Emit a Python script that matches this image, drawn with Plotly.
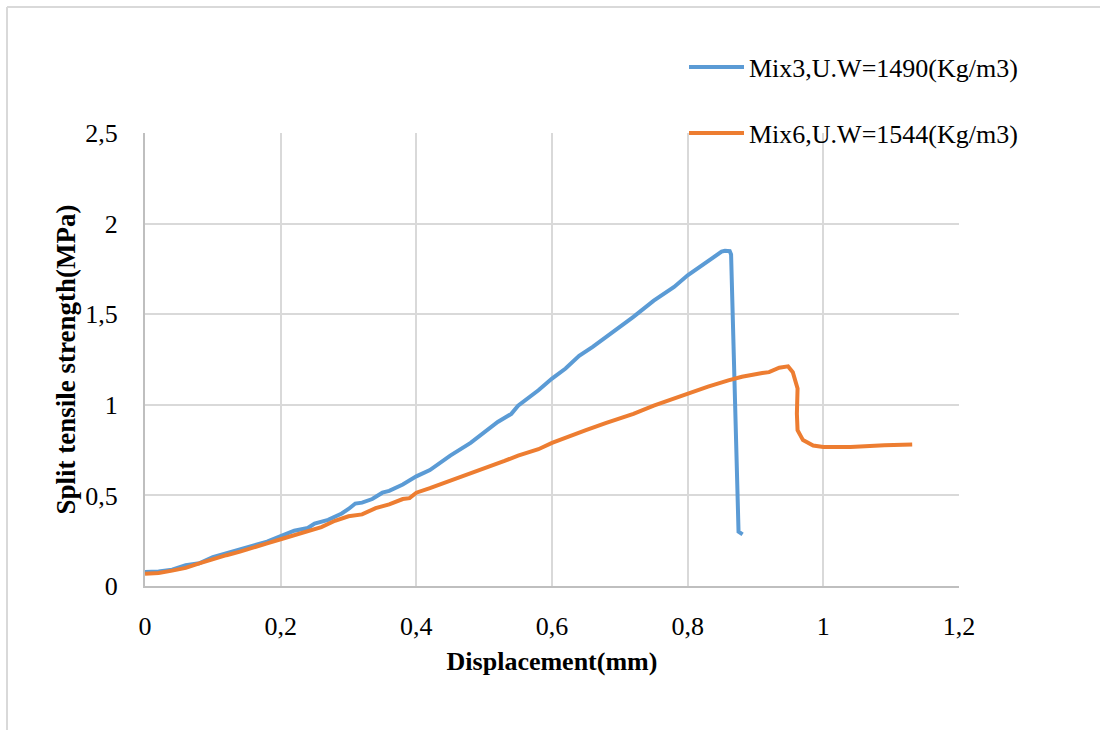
import plotly.graph_objects as go

# Mix3, U.W=1490 (Kg/m3)
mix3_x = [0, 0.02, 0.04, 0.06, 0.07, 0.08, 0.10, 0.12, 0.14, 0.16, 0.18, 0.20, 0.22, 0.24,
          0.25, 0.27, 0.29, 0.30, 0.31, 0.32, 0.335, 0.35, 0.36, 0.38, 0.40, 0.42, 0.45,
          0.48, 0.50, 0.52, 0.54, 0.55, 0.58, 0.60, 0.62, 0.64, 0.66, 0.68, 0.70, 0.72,
          0.75, 0.78, 0.80, 0.82, 0.84, 0.85, 0.855, 0.862, 0.864, 0.875, 0.881]
mix3_y = [0.077, 0.08, 0.09, 0.115, 0.12, 0.125, 0.16, 0.18, 0.20, 0.225, 0.245, 0.275, 0.305,
          0.32, 0.345, 0.365, 0.40, 0.425, 0.455, 0.46, 0.48, 0.515, 0.525, 0.56, 0.605, 0.64,
          0.72, 0.79, 0.845, 0.905, 0.95, 0.995, 1.08, 1.145, 1.20, 1.27, 1.32, 1.375, 1.43,
          1.485, 1.575, 1.65, 1.715, 1.765, 1.815, 1.845, 1.85, 1.848, 1.83, 0.30, 0.285]

# Mix6, U.W=1544 (Kg/m3)
mix6_x = [0, 0.02, 0.04, 0.06, 0.08, 0.10, 0.12, 0.14, 0.16, 0.18, 0.20, 0.22, 0.24, 0.26,
          0.28, 0.30, 0.32, 0.34, 0.36, 0.38, 0.39, 0.40, 0.42, 0.45, 0.48, 0.50, 0.53, 0.55,
          0.58, 0.60, 0.62, 0.65, 0.68, 0.70, 0.72, 0.75, 0.78, 0.80, 0.83, 0.86, 0.88, 0.91,
          0.92, 0.935, 0.948, 0.955, 0.962, 0.961, 0.962, 0.97, 0.985, 1.00, 1.04, 1.09, 1.131]
mix6_y = [0.068, 0.072, 0.085, 0.10, 0.125, 0.15, 0.17, 0.19, 0.215, 0.235, 0.258, 0.28, 0.30,
          0.325, 0.36, 0.385, 0.395, 0.43, 0.45, 0.48, 0.485, 0.515, 0.54, 0.58, 0.62, 0.648,
          0.69, 0.72, 0.755, 0.79, 0.82, 0.86, 0.90, 0.925, 0.95, 0.995, 1.035, 1.065, 1.10,
          1.135, 1.155, 1.175, 1.18, 1.205, 1.212, 1.18, 1.09, 0.95, 0.86, 0.805, 0.775, 0.767,
          0.767, 0.777, 0.781]

names = ["Mix3,U.W=1490(Kg/m3)", "Mix6,U.W=1544(Kg/m3)"]
colors = ["#5b9bd5", "#ed7d31"]

FONT = "Liberation Serif, Times New Roman, serif"

fig = go.Figure()
fig.add_trace(go.Scatter(x=mix3_x, y=mix3_y, mode="lines", name=names[0],
                         line=dict(color=colors[0], width=4), legend="legend"))
fig.add_trace(go.Scatter(x=mix6_x, y=mix6_y, mode="lines", name=names[1],
                         line=dict(color=colors[1], width=4), legend="legend2"))

W, H = 1100, 730
L, R, T, B = 145, 141, 133, 144
pw, ph = W - L - R, H - T - B

def px2paper(xp, yp):
    return (xp - L) / pw, (H - B - yp) / ph

fx0, fy0 = px2paper(7, 7)
fx1, _ = px2paper(1100, 7)
_, fy1 = px2paper(7, 730)

fig.update_layout(
    width=W, height=H,
    margin=dict(l=L, r=R, t=T, b=B, autoexpand=False),
    paper_bgcolor="white", plot_bgcolor="white",
    separators=", ",
    font=dict(family=FONT, size=26, color="#000000"),
    showlegend=True,
    legend=dict(x=px2paper(684, 0)[0], y=px2paper(0, 67)[1], xanchor="left", yanchor="middle",
                bgcolor="rgba(0,0,0,0)", font=dict(family=FONT, size=26), itemwidth=55),
    legend2=dict(x=px2paper(684, 0)[0], y=px2paper(0, 133)[1], xanchor="left", yanchor="middle",
                 bgcolor="rgba(0,0,0,0)", font=dict(family=FONT, size=26), itemwidth=55),
    xaxis=dict(range=[0, 1.2], dtick=0.2, tick0=0, showgrid=True, gridcolor="#d9d9d9", gridwidth=2,
               showline=True, linecolor="#bfbfbf", linewidth=2, zeroline=False,
               ticks="", ticklabelstandoff=16, tickfont=dict(family=FONT, size=26),
               title=dict(text="<b>Displacement(mm)</b>", font=dict(family=FONT, size=26), standoff=12)),
    yaxis=dict(range=[0, 2.5], dtick=0.5, tick0=0, showgrid=True, gridcolor="#d9d9d9", gridwidth=2,
               showline=True, linecolor="#bfbfbf", linewidth=2, zeroline=False,
               ticks="", ticklabelstandoff=20, tickfont=dict(family=FONT, size=26),
               title=dict(text="<b>Split tensile strength(MPa)</b>", font=dict(family=FONT, size=27), standoff=2)),
    shapes=[
        dict(type="line", xref="paper", yref="paper", x0=fx0, y0=fy0, x1=fx1, y1=fy0,
             line=dict(color="#d9d9d9", width=2), layer="below"),
        dict(type="line", xref="paper", yref="paper", x0=fx0, y0=fy0, x1=fx0, y1=fy1,
             line=dict(color="#d9d9d9", width=2), layer="below"),
    ],
)

fig.write_html("out.html")
